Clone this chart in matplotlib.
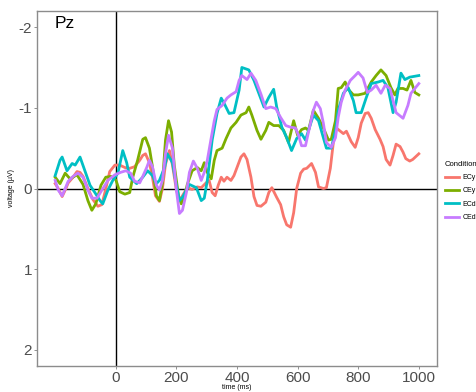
import numpy as np
import matplotlib
matplotlib.use('Agg')
import matplotlib.pyplot as plt

plt.rcParams['font.family'] = ['Liberation Sans', 'DejaVu Sans']
plt.rcParams['axes.unicode_minus'] = False

# ERP at Pz (time in ms, voltage in uV)
conditions = ['ECy', 'CEy', 'ECd', 'CEd']
colors = ['#F8766D', '#7CAE00', '#00BFC4', '#C77CFF']

t_ecy = [-200, -190, -177, -167, -157, -141, -128, -118, -108, -92, -75, -59, -46, -36, -20, -3, 13, 30, 46, 62,
         79, 89, 98, 111, 121, 131, 144, 154, 164, 177, 187, 200, 210, 220, 236, 252, 269, 282, 298, 308,
         318, 328, 338, 348, 357, 367, 380, 390, 400, 413, 423, 433, 446, 456, 466, 479, 495, 505, 515, 531,
         544, 554, 564, 577, 587, 597, 610, 620, 630, 646, 659, 669, 685, 695, 708, 718, 728, 741, 751, 761,
         777, 790, 800, 810, 823, 833, 843, 856, 872, 882, 892, 905, 915, 925, 938, 948, 957, 970, 980, 1000]
v_ecy = [-0.06, 0.00, 0.10, 0.02, -0.07, -0.14, -0.21, -0.20, -0.15, 0.00, 0.14, 0.22, 0.20, 0.05, -0.21, -0.29, -0.29, -0.26, -0.25, -0.27,
         -0.35, -0.41, -0.43, -0.32, -0.14, 0.09, 0.16, 0.00, -0.30, -0.47, -0.29, 0.02, 0.15, 0.09, -0.01, 0.01, -0.02, -0.01, -0.07, -0.10,
         0.05, 0.09, -0.04, -0.14, -0.09, -0.14, -0.10, -0.16, -0.26, -0.39, -0.43, -0.36, -0.14, 0.10, 0.21, 0.22, 0.17, 0.05, -0.01, 0.11,
         0.20, 0.35, 0.45, 0.48, 0.30, 0.00, -0.19, -0.24, -0.25, -0.31, -0.20, -0.02, 0.00, -0.01, -0.25, -0.57, -0.75, -0.71, -0.68, -0.71,
         -0.58, -0.51, -0.63, -0.81, -0.93, -0.94, -0.87, -0.73, -0.61, -0.52, -0.36, -0.29, -0.41, -0.55, -0.52, -0.45, -0.37, -0.34, -0.36, -0.43]

t_cey = [-200, -184, -167, -151, -128, -108, -92, -79, -66, -49, -33, -16, 0, 13, 30, 46, 56, 72, 89, 98,
         111, 121, 134, 144, 154, 164, 174, 184, 193, 207, 216, 226, 236, 252, 269, 282, 292, 302, 315, 325,
         334, 351, 364, 380, 397, 413, 430, 439, 449, 466, 479, 495, 505, 521, 538, 554, 570, 587, 600, 613,
         626, 636, 652, 669, 685, 702, 711, 725, 734, 744, 757, 767, 784, 800, 823, 843, 859, 875, 892, 908,
         921, 931, 948, 961, 974, 987, 1000]
v_cey = [-0.14, -0.06, -0.19, -0.12, -0.17, -0.05, 0.15, 0.27, 0.19, -0.04, -0.14, -0.15, -0.11, 0.04, 0.07, 0.05, -0.14, -0.35, -0.61, -0.63,
         -0.50, -0.27, 0.09, 0.15, -0.07, -0.60, -0.84, -0.70, -0.29, 0.09, 0.19, 0.11, -0.05, -0.22, -0.26, -0.22, -0.32, -0.20, -0.12, -0.35,
         -0.47, -0.50, -0.62, -0.75, -0.82, -0.91, -0.94, -1.01, -0.91, -0.72, -0.61, -0.72, -0.82, -0.78, -0.78, -0.72, -0.57, -0.84, -0.66, -0.73,
         -0.75, -0.72, -0.97, -0.87, -0.75, -0.60, -0.61, -0.84, -1.24, -1.25, -1.32, -1.23, -1.16, -1.16, -1.18, -1.32, -1.40, -1.47, -1.40, -1.25,
         -1.16, -1.24, -1.24, -1.22, -1.34, -1.19, -1.16]

t_ecd = [-200, -184, -177, -161, -144, -134, -118, -102, -85, -69, -52, -43, -26, -10, 7, 23, 36, 46, 69, 89,
         105, 121, 134, 144, 161, 170, 187, 200, 210, 220, 243, 266, 282, 292, 302, 318, 334, 348, 357, 374,
         390, 407, 416, 439, 456, 472, 489, 505, 521, 531, 548, 564, 580, 597, 613, 626, 636, 652, 669, 685,
         695, 711, 725, 734, 751, 767, 784, 793, 810, 826, 843, 866, 882, 898, 915, 925, 941, 954, 970, 1000]
v_ecd = [-0.16, -0.35, -0.39, -0.22, -0.31, -0.29, -0.39, -0.22, -0.04, 0.05, 0.15, 0.19, 0.02, -0.10, -0.19, -0.47, -0.32, -0.14, -0.06, -0.14,
         -0.22, -0.16, -0.06, -0.10, -0.26, -0.43, -0.32, -0.04, 0.15, 0.11, -0.05, -0.01, 0.15, 0.12, -0.10, -0.60, -0.93, -1.12, -1.06, -0.93,
         -0.94, -1.22, -1.50, -1.47, -1.34, -1.18, -1.01, -1.13, -1.23, -1.01, -0.76, -0.63, -0.47, -0.62, -0.68, -0.60, -0.72, -0.91, -0.84, -0.63,
         -0.50, -0.50, -0.72, -0.97, -1.18, -1.25, -1.09, -0.94, -0.94, -1.12, -1.30, -1.32, -1.34, -1.25, -0.94, -1.07, -1.43, -1.35, -1.38, -1.40]

t_ced = [-200, -190, -177, -167, -157, -141, -125, -108, -92, -79, -62, -46, -26, -3, 16, 33, 49, 62, 79, 89,
         102, 111, 121, 134, 144, 154, 164, 174, 187, 200, 210, 220, 233, 243, 256, 269, 282, 292, 302, 315,
         325, 334, 351, 367, 380, 397, 407, 416, 433, 446, 462, 479, 495, 511, 528, 544, 561, 577, 593, 603,
         613, 626, 636, 652, 662, 675, 685, 695, 711, 725, 734, 744, 757, 774, 790, 800, 816, 830, 843, 859,
         875, 889, 905, 915, 925, 948, 964, 974, 1000]
v_ced = [-0.10, 0.02, 0.09, 0.00, -0.09, -0.15, -0.19, -0.14, 0.02, 0.12, 0.12, 0.02, -0.10, -0.17, -0.20, -0.22, -0.19, -0.09, -0.07, -0.15,
         -0.26, -0.35, -0.27, -0.04, 0.02, -0.10, -0.43, -0.66, -0.50, 0.02, 0.31, 0.27, 0.05, -0.20, -0.34, -0.25, -0.10, -0.20, -0.35, -0.63,
         -0.84, -0.98, -1.03, -1.12, -1.16, -1.20, -1.34, -1.40, -1.35, -1.43, -1.34, -1.17, -0.99, -1.01, -0.99, -0.88, -0.78, -0.76, -0.75, -0.66,
         -0.53, -0.53, -0.70, -0.97, -1.07, -0.99, -0.81, -0.57, -0.51, -0.63, -0.88, -1.07, -1.22, -1.34, -1.40, -1.44, -1.37, -1.19, -1.22, -1.28,
         -1.18, -1.28, -1.24, -1.09, -0.94, -0.87, -1.03, -1.18, -1.30]

times = [t_ecy, t_cey, t_ecd, t_ced]
volts = [v_ecy, v_cey, v_ecd, v_ced]

xticks = [0, 200, 400, 600, 800, 1000]
yticks = [-2, -1, 0, 1, 2]

W, H = 476, 392
fig = plt.figure(figsize=(W / 100, H / 100), dpi=100)
ax = fig.add_axes([37 / W, 1 - 366 / H, 400 / W, 355 / H])

ax.axhline(0, color='black', lw=1.0, zorder=1)
ax.axvline(0, color='black', lw=1.0, zorder=1)

lines = []
for t, v, c, name in zip(times, volts, colors, conditions):
    ln, = ax.plot(t, v, color=c, lw=2.0, label=name, zorder=2)
    lines.append(ln)

ax.set_xlim(-260, 1060)
ax.set_ylim(2.2, -2.2)
ax.set_xticks(xticks)
ax.set_yticks(yticks)
ax.tick_params(colors='#7f7f7f', labelcolor='#4D4D4D', labelsize=11, length=2, width=0.6, pad=1.5)
for s in ax.spines.values():
    s.set_color('#8c8c8c')
    s.set_linewidth(1.0)

# axis titles sit where the reference puts them
fig.text(237 / W, 1 - 387.5 / H, 'time (ms)', fontsize=5, ha='center', va='center')
fig.text(12 / W, 1 - 188 / H, 'voltage (\u00b5V)', fontsize=5, ha='center', va='center', rotation=90)
ax.text(0.045, 0.985, 'Pz', transform=ax.transAxes, fontsize=12.5, ha='left', va='top')

leg = fig.legend(handles=lines, title='Condition', loc='upper left',
                 bbox_to_anchor=(445 / W, 1 - 161 / H), frameon=False,
                 fontsize=5, title_fontsize=5.5, handlelength=2.0, labelspacing=0.9,
                 handletextpad=0.5, borderaxespad=0, borderpad=0)
leg._legend_box.align = 'left'

fig.savefig('out.png', dpi=100)
